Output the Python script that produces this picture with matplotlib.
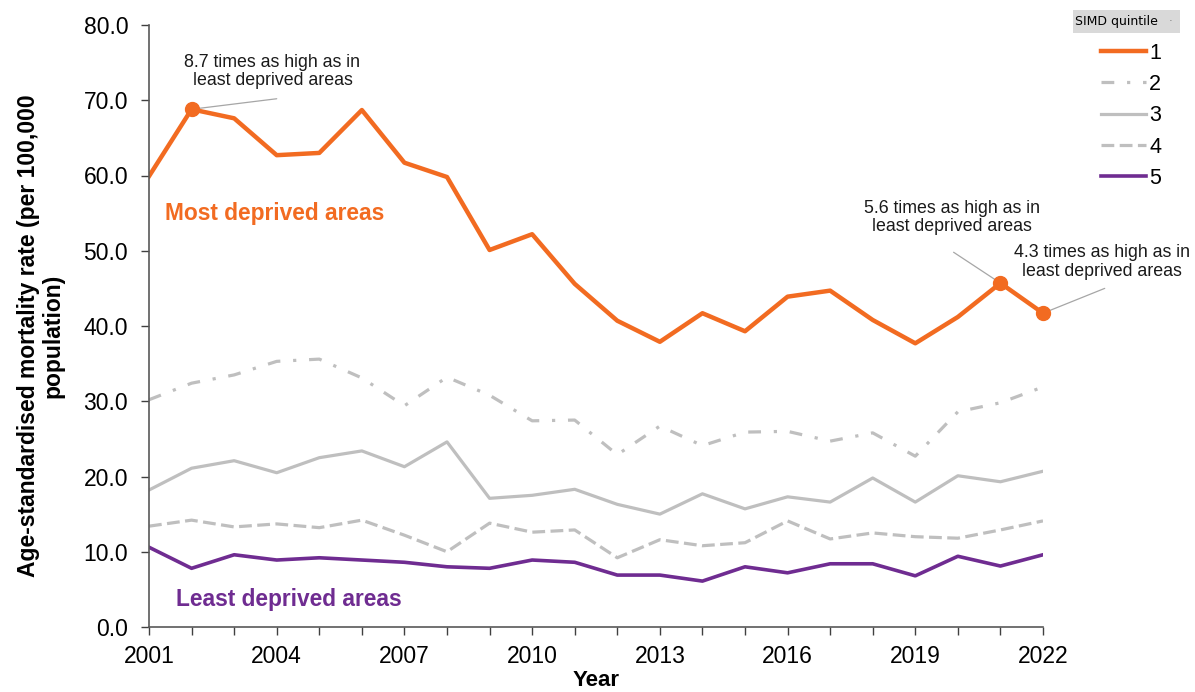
import matplotlib
matplotlib.use("Agg")
import matplotlib.pyplot as plt
from matplotlib.patches import Rectangle

plt.rcParams['font.family'] = ['Liberation Sans', 'DejaVu Sans']

# data
years = list(range(2001, 2023))
q1 = [59.9, 68.8, 67.6, 62.7, 63.0, 68.7, 61.7, 59.8, 50.1, 52.2, 45.6,
      40.7, 37.9, 41.7, 39.3, 43.9, 44.7, 40.8, 37.7, 41.2, 45.7, 41.7]
q2 = [30.2, 32.4, 33.5, 35.3, 35.6, 33.1, 29.4, 33.2, 30.8, 27.4, 27.5,
      22.9, 26.7, 24.1, 25.9, 26.0, 24.7, 25.8, 22.7, 28.6, 29.8, 31.9]
q3 = [18.2, 21.1, 22.1, 20.5, 22.5, 23.4, 21.3, 24.6, 17.1, 17.5, 18.3,
      16.3, 15.0, 17.7, 15.7, 17.3, 16.6, 19.8, 16.6, 20.1, 19.3, 20.7]
q4 = [13.4, 14.2, 13.3, 13.7, 13.2, 14.2, 12.2, 10.0, 13.8, 12.6, 12.9,
      9.2, 11.6, 10.8, 11.2, 14.1, 11.7, 12.5, 12.0, 11.8, 12.9, 14.1]
q5 = [10.6, 7.8, 9.6, 8.9, 9.2, 8.9, 8.6, 8.0, 7.8, 8.9, 8.6,
      6.9, 6.9, 6.1, 8.0, 7.2, 8.4, 8.4, 6.8, 9.4, 8.1, 9.6]
quintiles = ["1", "2", "3", "4", "5"]
yticks = [0, 10, 20, 30, 40, 50, 60, 70, 80]
xticks = [2001, 2004, 2007, 2010, 2013, 2016, 2019, 2022]

ORANGE = "#F26B21"
PURPLE = "#6F2C91"
GREY = "#BFBFBF"

W, H = 1195, 692
fig = plt.figure(figsize=(W/100, H/100), dpi=100)
ax = fig.add_axes([149/W, 1-627/H, (1043-149)/W, (627-25)/H])

l1, = ax.plot(years, q1, color=ORANGE, lw=3.2, label=quintiles[0])
l2, = ax.plot(years, q2, color=GREY, lw=2.3, dashes=(4, 4, 1, 4), label=quintiles[1])
l3, = ax.plot(years, q3, color=GREY, lw=2.3, label=quintiles[2])
l4, = ax.plot(years, q4, color=GREY, lw=2.3, dashes=(4, 1.7), label=quintiles[3])
l5, = ax.plot(years, q5, color=PURPLE, lw=2.6, label=quintiles[4])

# highlighted points with callouts: (year, text, end of leader line, text centre)
notes = [
    (2002, "8.7 times as high as in\nleast deprived areas", (2004.0, 70.2), (2003.9, 73.8)),
    (2021, "5.6 times as high as in\nleast deprived areas", (2019.9, 49.8), (2019.86, 54.4)),
    (2022, "4.3 times as high as in\nleast deprived areas", (2023.45, 45.0), (2023.39, 48.5)),
]
for yr, txt, lend, tpos in notes:
    v = q1[years.index(yr)]
    ax.plot(yr, v, 'o', color=ORANGE, ms=10, clip_on=False, zorder=5)
    ax.annotate("", xy=(yr, v), xytext=lend, annotation_clip=False,
                arrowprops=dict(arrowstyle='-', color='#A6A6A6', lw=0.9,
                                shrinkA=0, shrinkB=0))
    ax.text(tpos[0], tpos[1], txt, ha='center', va='center', fontsize=12.8,
            color='#1a1a1a', linespacing=1.12, clip_on=False)

ax.text(2001.38, 55.0, "Most deprived areas", color=ORANGE, fontsize=16.4,
        fontweight='bold', va='center', ha='left')
ax.text(2001.63, 3.6, "Least deprived areas", color=PURPLE, fontsize=16.4,
        fontweight='bold', va='center', ha='left')

ax.set_xlim(2001, 2022)
ax.set_ylim(0, 80)
ax.set_yticks(yticks)
ax.set_yticklabels([f"{t:.1f}" for t in yticks])
ax.set_xticks(years, minor=True)
ax.set_xticks(xticks)
ax.tick_params(axis='both', which='both', direction='out', colors='#404040',
               labelcolor='black', labelsize=16.5, width=1, length=6)
ax.tick_params(axis='y', pad=9)
ax.tick_params(axis='x', pad=7)
for s in ['top', 'right']:
    ax.spines[s].set_visible(False)
for s in ['left', 'bottom']:
    ax.spines[s].set_color('#595959')
    ax.spines[s].set_linewidth(1.2)

fig.text(596/W, 1/H, "Year", fontsize=16, fontweight='bold',
         ha='center', va='bottom')
ax.set_ylabel("Age-standardised mortality rate (per 100,000\npopulation)",
              fontsize=16.5, fontweight='bold', linespacing=1.05)
ax.yaxis.set_label_coords(-0.095, 0.484)

# legend
fig.patches.append(Rectangle((1073/W, 1-33/H), 107/W, 23/H, transform=fig.transFigure,
                             fc='#D9D9D9', ec='none'))
fig.text(1075/W, 1-21.5/H, "SIMD quintile", fontsize=9, family='DejaVu Sans',
         va='center', ha='left')
fig.text(1170/W, 1-21.5/H, "\u00b7", fontsize=8, color='#666666',
         va='center', ha='center')
leg = fig.legend(handles=[l1, l2, l3, l4, l5], loc='upper left',
                 bbox_to_anchor=(1092/W, 1-34/H), frameon=False,
                 fontsize=15.5, handlelength=2.1, handletextpad=0.15,
                 labelspacing=0.48, borderaxespad=0)

fig.savefig("out.png", dpi=100)
